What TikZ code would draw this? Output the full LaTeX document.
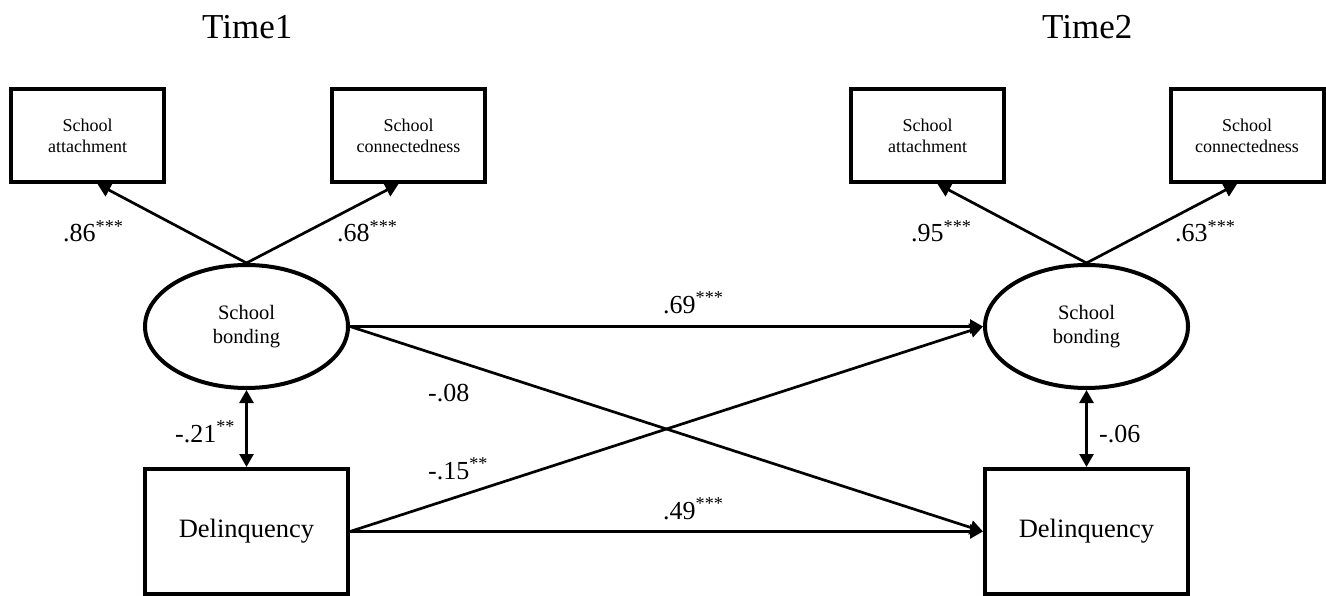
\documentclass[tikz,border=0pt]{standalone}
\usepackage{fontspec}
\setmainfont{Liberation Serif}
\usetikzlibrary{arrows.meta,shapes.geometric}
\tikzset{
  x=1pt, y=-1pt,
  indbox/.style={draw, line width=4pt, rectangle, minimum width=153pt, minimum height=93pt, inner sep=0pt, align=center, font=\fontsize{18}{21}\selectfont},
  latent/.style={draw, line width=4pt, ellipse, minimum width=203pt, minimum height=123pt, inner sep=0pt, align=center, font=\fontsize{20.5}{24}\selectfont},
  delbox/.style={draw, line width=4pt, rectangle, minimum width=203pt, minimum height=125pt, inner sep=0pt, font=\fontsize{26.5}{30}\selectfont},
  tip/.style={Triangle[length=13pt,width=14pt]},
  arr/.style={line width=2.7pt, -{Triangle[length=13pt,width=14pt]}},
  darr/.style={line width=2.7pt, {Triangle[length=13pt,width=14pt]}-{Triangle[length=13pt,width=14pt]}},
  coef/.style={anchor=base west, inner sep=0pt, font=\fontsize{26}{30}\selectfont},
  ttl/.style={anchor=base west, inner sep=0pt, font=\fontsize{35}{40}\selectfont}
}
\newcommand{\stars}[1]{\textsuperscript{#1}}
\begin{document}
\begin{tikzpicture}
\useasboundingbox (0,0) rectangle (1326,596);
% titles
\node[ttl] (t1) at (202,39) {Time1};
\node[ttl] (t2) at (1042,39) {Time2};
% Time 1
\node[indbox] (att1) at (87.5,135.5) {School\\attachment};
\node[indbox] (con1) at (408.5,135.5) {School\\connectedness};
\node[latent] (e1) at (246.5,326.5) {School\\bonding};
\node[delbox] (d1) at (246.5,531.5) {Delinquency};
% Time 2
\node[indbox] (att2) at (927.5,135.5) {School\\attachment};
\node[indbox] (con2) at (1247,135.5) {School\\connectedness};
\node[latent] (e2) at (1086.5,326.5) {School\\bonding};
\node[delbox] (d2) at (1086.5,531.5) {Delinquency};
% loadings
\draw[arr] (e1.north) -- ([xshift=10pt]att1.south);
\draw[arr] (e1.north) -- ([xshift=-10pt]con1.south);
\draw[arr] (e2.north) -- ([xshift=10pt]att2.south);
\draw[arr] (e2.north) -- ([xshift=-10pt]con2.south);
% correlations
\draw[darr] (e1.south) -- (d1.north);
\draw[darr] (e2.south) -- (d2.north);
% paths
\draw[arr] (e1.east) -- (e2.west);
\draw[arr] (e1.east) -- (d2.west);
\draw[arr] (d1.east) -- (e2.west);
\draw[arr] (d1.east) -- (d2.west);
% coefficients
\node[coef] (l1) at (63,242) {.86\stars{***}};
\node[coef] (l2) at (337,242) {.68\stars{***}};
\node[coef] (l3) at (911,242) {.95\stars{***}};
\node[coef] (l4) at (1175,242) {.63\stars{***}};
\node[coef] (c1) at (175,442) {-.21\stars{**}};
\node[coef] (c2) at (1099,442) {-.06};
\node[coef] (p1) at (663,313) {.69\stars{***}};
\node[coef] (p2) at (428,401) {-.08};
\node[coef] (p3) at (428,479) {-.15\stars{**}};
\node[coef] (p4) at (663,519) {.49\stars{***}};
\end{tikzpicture}
\end{document}
